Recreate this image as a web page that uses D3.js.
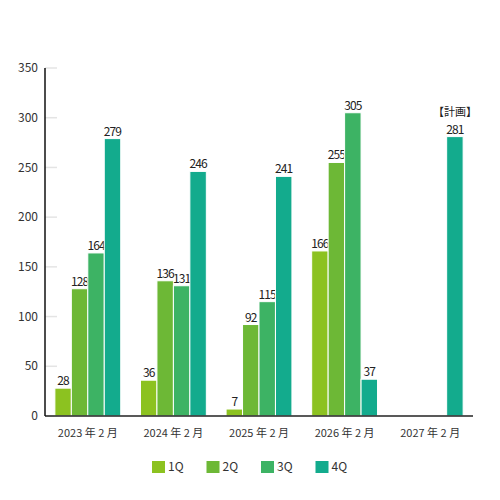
<!DOCTYPE html>
<html lang="ja">
<head>
<meta charset="UTF-8">
<script src="https://cdn.jsdelivr.net/npm/d3@7"></script>
<style>
  body { margin: 0; background: #fff; }
  text { font-family: "Noto Sans CJK JP", "Noto Sans", sans-serif; fill: #222; }
</style>
</head>
<body>
<script>
  var years = ["2023 年 2 月", "2024 年 2 月", "2025 年 2 月", "2026 年 2 月", "2027 年 2 月"];
  var quarters = ["1Q", "2Q", "3Q", "4Q"];
  var q1 = [28, 36, 7, 166, null];
  var q2 = [128, 136, 92, 255, null];
  var q3 = [164, 131, 115, 305, null];
  var q4 = [279, 246, 241, 37, 281];
  var yTicks = [0, 50, 100, 150, 200, 250, 300, 350];
  var colors = ["#8cc220", "#6db836", "#3db364", "#13ab8d"];

  var series = [q1, q2, q3, q4];

  var width = 500, height = 500;
  var margin = {left: 45, right: 27, top: 68, bottom: 84};

  var svg = d3.select("body").append("svg")
    .attr("width", width)
    .attr("height", height);

  var x = d3.scaleBand()
    .domain(years)
    .range([margin.left, width - margin.right]);

  var xInner = d3.scaleBand()
    .domain(quarters)
    .range([0, x.bandwidth()])
    .paddingOuter(0.6);

  var y = d3.scaleLinear()
    .domain([0, 350])
    .range([height - margin.bottom, margin.top]);

  // short tick marks on the left
  svg.append("g")
    .selectAll("line")
    .data(yTicks)
    .enter().append("line")
    .attr("x1", margin.left)
    .attr("x2", margin.left + 12)
    .attr("y1", function(d) { return y(d); })
    .attr("y2", function(d) { return y(d); })
    .attr("stroke", "#e4e4e4")
    .attr("stroke-width", 1.5);

  svg.append("g")
    .selectAll("text")
    .data(yTicks)
    .enter().append("text")
    .attr("x", margin.left - 7)
    .attr("y", function(d) { return y(d); })
    .attr("dy", "0.35em")
    .attr("text-anchor", "end")
    .style("font-size", "12px")
    .style("fill", "#333")
    .text(function(d) { return d; });

  // bars
  var groups = svg.append("g")
    .selectAll("g")
    .data(series)
    .enter().append("g")
    .attr("fill", function(d, i) { return colors[i]; });

  groups.each(function(vals, si) {
    var g = d3.select(this);
    var items = vals.map(function(v, i) { return {year: years[i], v: v}; })
      .filter(function(d) { return d.v != null; });

    g.selectAll("rect")
      .data(items)
      .enter().append("rect")
      .attr("x", function(d) { return x(d.year) + xInner(quarters[si]); })
      .attr("y", function(d) { return y(d.v); })
      .attr("width", xInner.bandwidth())
      .attr("height", function(d) { return y(0) - y(d.v); })
      .attr("stroke", "#fff")
      .attr("stroke-width", 1);

    g.selectAll("text")
      .data(items)
      .enter().append("text")
      .attr("x", function(d) { return x(d.year) + xInner(quarters[si]) + xInner.bandwidth() / 2; })
      .attr("y", function(d) { return y(d.v) - 3; })
      .attr("text-anchor", "middle")
      .style("font-size", "12px")
      .style("letter-spacing", "-0.9px")
      .text(function(d) { return d.v; });
  });

  // plan label
  svg.append("text")
    .attr("x", x(years[4]) + xInner("4Q") + xInner.bandwidth() / 2)
    .attr("y", y(q4[4]) - 21)
    .attr("text-anchor", "middle")
    .style("font-size", "11px")
    .text("【計画】");

  // x axis
  svg.append("line")
    .attr("x1", margin.left)
    .attr("x2", width - margin.right)
    .attr("y1", y(0))
    .attr("y2", y(0))
    .attr("stroke", "#222")
    .attr("stroke-width", 1.5);

  svg.append("line")
    .attr("x1", margin.left)
    .attr("x2", margin.left)
    .attr("y1", y(350))
    .attr("y2", y(0))
    .attr("stroke", "#111")
    .attr("stroke-width", 1.5);

  svg.append("g")
    .selectAll("text")
    .data(years)
    .enter().append("text")
    .attr("x", function(d) { return x(d) + x.bandwidth() / 2; })
    .attr("y", y(0) + 21)
    .attr("text-anchor", "middle")
    .style("font-size", "11px")
    .style("fill", "#333")
    .text(function(d) { return d; });

  // legend
  var legend = svg.append("g")
    .selectAll("g")
    .data(quarters)
    .enter().append("g")
    .attr("transform", function(d, i) { return "translate(" + (152 + i * 54.5) + ",461)"; });

  legend.append("rect")
    .attr("width", 13)
    .attr("height", 12)
    .attr("fill", function(d, i) { return colors[i]; });

  legend.append("text")
    .attr("x", 16)
    .attr("y", 6)
    .attr("dy", "0.35em")
    .style("font-size", "12px")
    .style("fill", "#333")
    .text(function(d) { return d; });
</script>
</body>
</html>
